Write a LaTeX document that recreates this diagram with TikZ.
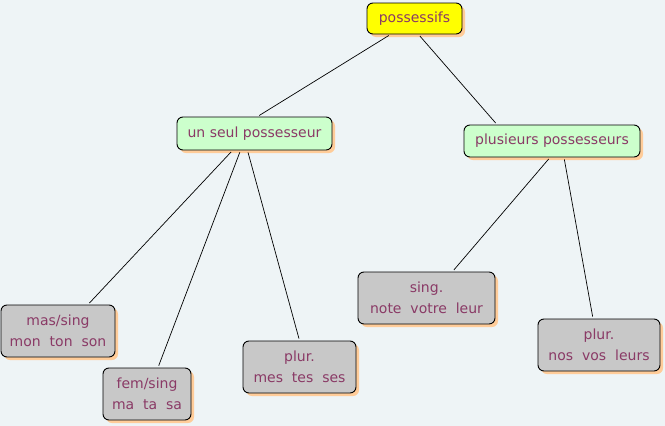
\documentclass[tikz,border=0pt]{standalone}
\usepackage{fontspec}
\setmainfont{DejaVu Sans}
\usetikzlibrary{shadows}
\definecolor{bg}{HTML}{EEF4F6}
\definecolor{txt}{HTML}{8A3A66}
\definecolor{shad}{HTML}{FFCC99}
\definecolor{yel}{HTML}{FFFF00}
\definecolor{grn}{HTML}{CCFFCC}
\definecolor{gry}{HTML}{C8C8C8}
\tikzset{
  box/.style={draw=black, line width=0.9pt, rounded corners=6pt, text=txt,
    font=\fontsize{14}{21}\selectfont, align=center, inner sep=0pt,
    general shadow={fill=shad, shadow xshift=3pt, shadow yshift=-3pt}},
  conn/.style={draw=black, line width=0.7pt, shorten <=2pt, shorten >=2pt}
}
\begin{document}
\begin{tikzpicture}[x=1pt,y=-1pt]
\fill[bg] (0,0) rectangle (665,426);
\useasboundingbox (0,0) rectangle (665,426);
\node[box, fill=yel, minimum width=95pt, minimum height=31pt] (root) at (414.5,18.5) {possessifs};
\node[box, fill=grn, minimum width=155pt, minimum height=33pt] (un) at (254.5,133.5) {un seul possesseur};
\node[box, fill=grn, minimum width=176pt, minimum height=32pt] (plu) at (552,141) {plusieurs possesseurs};
\node[box, fill=gry, minimum width=114pt, minimum height=52pt] (mas) at (58,331) {mas/sing\\mon\ \ ton\ \ son};
\node[box, fill=gry, minimum width=88pt, minimum height=52pt] (fem) at (147,394) {fem/sing\\ma\ \ ta\ \ sa};
\node[box, fill=gry, minimum width=113pt, minimum height=52pt] (pl1) at (299.5,367) {plur.\\mes\ \ tes\ \ ses};
\node[box, fill=gry, minimum width=137pt, minimum height=52pt] (sg2) at (426.5,298) {sing.\\note\ \ votre\ \ leur};
\node[box, fill=gry, minimum width=122pt, minimum height=52pt] (pl2) at (599,345) {plur.\\nos\ \ vos\ \ leurs};
\draw[conn] ([xshift=-24pt]root.south) -- ([xshift=3pt]un.north);
\draw[conn] ([xshift=4pt]root.south) -- ([xshift=-55pt]plu.north);
\draw[conn] ([xshift=-22pt]un.south) -- ([xshift=30pt]mas.north);
\draw[conn] ([xshift=-14pt]un.south) -- ([xshift=11pt]fem.north);
\draw[conn] ([xshift=-7pt]un.south) -- (pl1.north);
\draw[conn] ([xshift=-2pt]plu.south) -- ([xshift=26pt]sg2.north);
\draw[conn] ([xshift=12pt]plu.south) -- ([xshift=-6pt]pl2.north);
\end{tikzpicture}
\end{document}
